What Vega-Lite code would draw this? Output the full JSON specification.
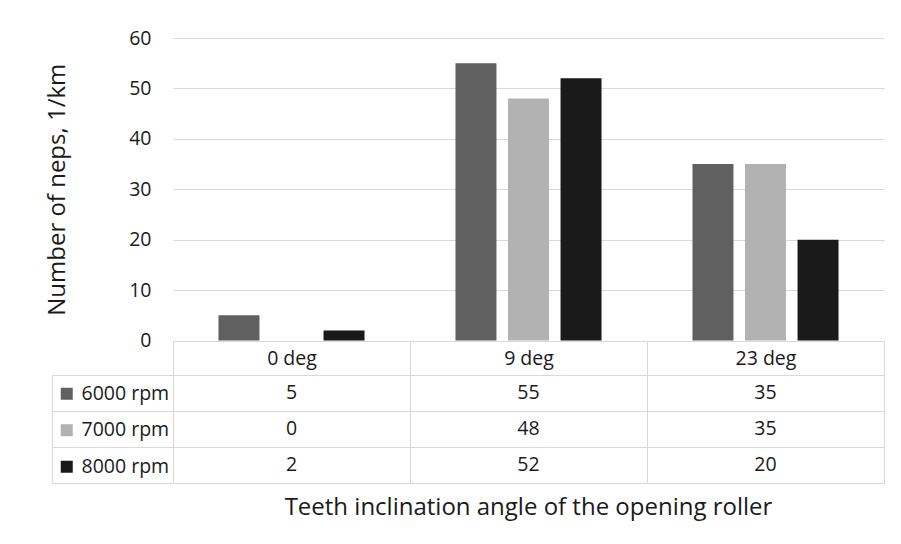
{
  "$schema": "https://vega.github.io/schema/vega-lite/v6.json",
  "padding": {"left": 45, "top": 28, "right": 5, "bottom": 5},
  "background": "white",
  "spacing": 34,
  "bounds": "flush",
  "config": {
    "view": {"stroke": null},
    "font": "Open Sans",
    "axis": {"labelColor": "#1a1a1a", "titleColor": "#1a1a1a", "labelFont": "Open Sans", "titleFont": "Open Sans"},
    "legend": {"labelFont": "Open Sans"},
    "title": {"font": "Open Sans"}
  },
  "datasets": {
    "neps": [
      {"angle": "0 deg", "series": "6000 rpm", "neps": 5},
      {"angle": "0 deg", "series": "7000 rpm", "neps": 0},
      {"angle": "0 deg", "series": "8000 rpm", "neps": 2},
      {"angle": "9 deg", "series": "6000 rpm", "neps": 55},
      {"angle": "9 deg", "series": "7000 rpm", "neps": 48},
      {"angle": "9 deg", "series": "8000 rpm", "neps": 52},
      {"angle": "23 deg", "series": "6000 rpm", "neps": 35},
      {"angle": "23 deg", "series": "7000 rpm", "neps": 35},
      {"angle": "23 deg", "series": "8000 rpm", "neps": 20}
    ]
  },
  "resolve": {"scale": {"x": "independent", "color": "independent", "y": "independent"}, "legend": {"color": "independent"}},
  "vconcat": [
    {
      "width": 711,
      "height": 302.5,
      "data": {"name": "neps"},
      "mark": {"type": "bar"},
      "encoding": {
        "x": {"field": "angle", "type": "nominal", "sort": ["0 deg", "9 deg", "23 deg"], "scale": {"paddingInner": 0.335, "paddingOuter": 0.1675}, "axis": null},
        "xOffset": {"field": "series", "type": "nominal", "sort": ["6000 rpm", "7000 rpm", "8000 rpm"], "scale": {"paddingInner": 0.22, "paddingOuter": 0.11}},
        "y": {
          "field": "neps", "type": "quantitative", "scale": {"domain": [0, 60]},
          "axis": {"values": [0, 10, 20, 30, 40, 50, 60], "title": "Number of neps, 1/km", "grid": true, "gridColor": "#d9d9d9", "domain": false, "ticks": false, "labelPadding": 22, "labelFontSize": 19.5, "titleFontSize": 24, "titleFontWeight": "normal", "titlePadding": 59}
        },
        "color": {"field": "series", "type": "nominal", "scale": {"domain": ["6000 rpm", "7000 rpm", "8000 rpm"], "range": ["#606060", "#b2b2b2", "#1a1a1a"]}, "legend": null}
      }
    },
    {
      "width": 711,
      "height": 108,
      "data": {"name": "neps"},
      "title": {"text": "Teeth inclination angle of the opening roller", "orient": "bottom", "fontSize": 24, "fontWeight": "normal", "offset": 12, "color": "#1a1a1a"},
      "layer": [
        {
          "mark": {"type": "text", "fontSize": 19.5, "color": "#1a1a1a"},
          "encoding": {
            "x": {"field": "angle", "type": "nominal", "sort": ["0 deg", "9 deg", "23 deg"], "scale": {"padding": 0},
              "axis": {"orient": "top", "title": null, "labelAngle": 0, "tickBand": "extent", "tickSize": 34, "labelPadding": -17, "labelBaseline": "middle", "grid": true, "gridColor": "#d9d9d9", "tickColor": "#d9d9d9", "domainColor": "#d9d9d9", "labelFontSize": 19.5}},
            "y": {"field": "series", "type": "nominal", "sort": ["6000 rpm", "7000 rpm", "8000 rpm"], "scale": {"padding": 0},
              "axis": {"title": null, "labels": false, "tickBand": "extent", "tickSize": 121, "grid": true, "gridColor": "#d9d9d9", "tickColor": "#d9d9d9", "domainColor": "#d9d9d9"}},
            "text": {"field": "neps", "type": "quantitative"}
          }
        },
        {
          "mark": {"type": "point", "shape": "square", "filled": true, "opacity": 0},
          "encoding": {
            "y": {"field": "series", "type": "nominal", "sort": ["6000 rpm", "7000 rpm", "8000 rpm"],
              "axis": {"orient": "left", "offset": 121, "title": null, "labels": false, "ticks": false, "grid": false, "domainColor": "#d9d9d9"}},
            "color": {"field": "series", "type": "nominal", "scale": {"domain": ["6000 rpm", "7000 rpm", "8000 rpm"], "range": ["#606060", "#b2b2b2", "#1a1a1a"]},
              "legend": {"orient": "none", "legendX": -116, "legendY": 9, "title": null, "symbolType": "square", "symbolSize": 144, "symbolOpacity": 1, "symbolStrokeWidth": 0, "labelFontSize": 19.5, "labelColor": "#1a1a1a", "labelOffset": 5, "rowPadding": 15.5, "padding": 0}}
          }
        }
      ],
      "resolve": {"axis": {"y": "independent"}}
    }
  ]
}
